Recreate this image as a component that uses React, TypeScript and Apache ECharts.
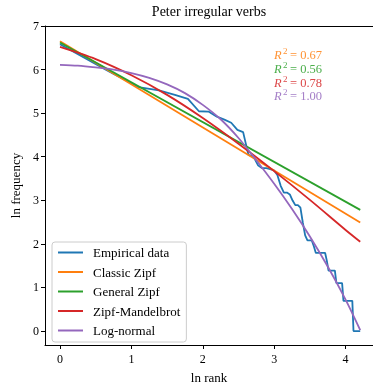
import React, { useEffect, useRef } from "react";
import * as echarts from "echarts";

// Empirical frequencies by rank (rank = index + 1)
const empiricalFreq = [
  720, 385, 270, 250, 226, 206, 155, 154, 137, 128, 119, 101, 96, 57, 55, 45,
  42, 42, 41, 40, 36, 28, 24, 24, 23, 20, 18, 18, 17, 12, 9, 8, 8, 8, 7,
  6, 6, 6, 6, 6, 6, 5, 4, 4, 4, 4, 4, 3, 3, 3, 3, 3,
  2, 2, 2, 2, 2, 2, 2, 2, 1, 1, 1, 1, 1, 1, 1,
];

// Fitted curves (ln rank, ln frequency)
const lineX = [0, 4.205];
const classicZipf = [6.65, 2.49];
const generalZipf = [6.62, 2.78];

const mandelX = [0, 0.5, 1, 1.5, 2, 2.5, 3, 3.5, 4, 4.205];
const mandelY = [6.52, 6.24, 5.87, 5.42, 4.89, 4.3, 3.67, 3.01, 2.32, 2.05];

const lognX = [0, 0.25, 0.5, 0.75, 1, 1.25, 1.5, 1.75, 2, 2.25, 2.5, 2.75, 3, 3.25, 3.5, 3.75, 4, 4.205];
const lognY = [6.11, 6.09, 6.05, 6.0, 5.92, 5.81, 5.66, 5.46, 5.19, 4.86, 4.43, 3.92, 3.38, 2.8, 2.17, 1.48, 0.72, 0.02];

const xTicks = [0, 1, 2, 3, 4];
const yTicks = [0, 1, 2, 3, 4, 5, 6, 7];

const seriesNames = ["Empirical data", "Classic Zipf", "General Zipf", "Zipf-Mandelbrot", "Log-normal"];
const colors = ["#1f77b4", "#ff7f0e", "#2ca02c", "#d62728", "#9467bd"];
const r2Labels = ["0.67", "0.56", "0.78", "1.00"];

const FONT = "'Liberation Serif', 'DejaVu Serif', serif";

export default function App() {
  const ref = useRef<HTMLDivElement>(null);
  useEffect(() => {
    if (!ref.current) return;
    const chart = echarts.init(ref.current, null, { renderer: "svg" });
    const pair = (xs: number[], ys: number[]) => xs.map((x, i) => [x, ys[i]]);
    const empData = empiricalFreq.map((f, i) => [Math.log(i + 1), Math.log(f)]);

    const axisCommon = {
      axisLine: { show: true, onZero: false, lineStyle: { color: "#000", width: 1 } },
      splitLine: { show: false },
      axisTick: { show: true, inside: false, length: 4, lineStyle: { color: "#000" } },
    };

    const r2Graphics: any[] = [];
    r2Labels.forEach((v, i) => {
      const c = 55 + i * 13.8;
      const col = colors[i + 1];
      r2Graphics.push(
        {
          type: "text",
          x: 274,
          y: c,
          style: { text: "R", fontFamily: FONT, fontStyle: "italic", fontSize: 12.5, fill: col, textVerticalAlign: "middle", opacity: 0.85 },
        },
        {
          type: "text",
          x: 283,
          y: c - 4,
          style: { text: "2", fontFamily: FONT, fontSize: 9, fill: col, textVerticalAlign: "middle", opacity: 0.85 },
        },
        {
          type: "text",
          x: 290,
          y: c,
          style: { text: `= ${v}`, fontFamily: FONT, fontSize: 12.5, fill: col, textVerticalAlign: "middle", opacity: 0.85 },
        }
      );
    });

    const mkSeries = (name: string, data: number[][], z: number, smooth: number | boolean = false) => ({
      name,
      type: "line",
      data,
      symbol: "none",
      smooth,
      lineStyle: { width: 1.8 },
      z,
    });

    chart.setOption({
      animation: false,
      color: colors,
      textStyle: { fontFamily: FONT },
      grid: { left: 45, right: 0, top: 26, bottom: 40, containLabel: false },
      xAxis: [
        {
          type: "value",
          min: -0.21,
          max: 4.384,
          name: "ln rank",
          nameLocation: "middle",
          nameGap: 26,
          nameTextStyle: { fontFamily: FONT, fontSize: 13, color: "#000" },
          ...axisCommon,
          axisTick: { ...axisCommon.axisTick, customValues: xTicks },
          axisLabel: { customValues: xTicks, color: "#000", fontFamily: FONT, fontSize: 12, margin: 8 },
        },
        {
          type: "value",
          position: "top",
          min: -0.21,
          max: 4.384,
          axisLine: { show: true, onZero: false, lineStyle: { color: "#000", width: 1 } },
          axisTick: { show: false },
          axisLabel: { show: false },
          splitLine: { show: false },
        },
      ],
      yAxis: {
        type: "value",
        min: -0.32,
        max: 7,
        name: "ln frequency",
        nameLocation: "middle",
        nameGap: 23,
        nameRotate: 90,
        nameTextStyle: { fontFamily: FONT, fontSize: 13, color: "#000" },
        ...axisCommon,
        axisTick: { ...axisCommon.axisTick, customValues: yTicks },
        axisLabel: { customValues: yTicks, color: "#000", fontFamily: FONT, fontSize: 12, margin: 6 },
      },
      legend: {
        orient: "vertical",
        left: 52,
        top: 242,
        data: seriesNames,
        itemWidth: 25,
        itemHeight: 13,
        itemGap: 6.5,
        padding: [4, 6, 5, 5],
        backgroundColor: "rgba(255,255,255,0.8)",
        borderColor: "#cccccc",
        borderWidth: 1,
        borderRadius: 3,
        itemStyle: { opacity: 0 },
        textStyle: { fontFamily: FONT, fontSize: 13, color: "#000", padding: [0, 0, 0, 5] },
      },
      graphic: [
        {
          type: "text",
          x: 209,
          y: 11,
          style: {
            text: "Peter irregular verbs",
            fontFamily: FONT,
            fontSize: 14,
            fill: "#000",
            textAlign: "center",
            textVerticalAlign: "middle",
          },
        },
        ...r2Graphics,
      ],
      series: [
        mkSeries(seriesNames[0], empData, 2),
        mkSeries(seriesNames[1], pair(lineX, classicZipf), 3),
        mkSeries(seriesNames[2], pair(lineX, generalZipf), 4),
        mkSeries(seriesNames[3], pair(mandelX, mandelY), 5, 0.3),
        mkSeries(seriesNames[4], pair(lognX, lognY), 6, 0.3),
      ],
    });
    return () => chart.dispose();
  }, []);
  return (
    <div
      ref={ref}
      style={{ position: "fixed", left: 0, top: 0, width: 373, height: 389 }}
    />
  );
}
